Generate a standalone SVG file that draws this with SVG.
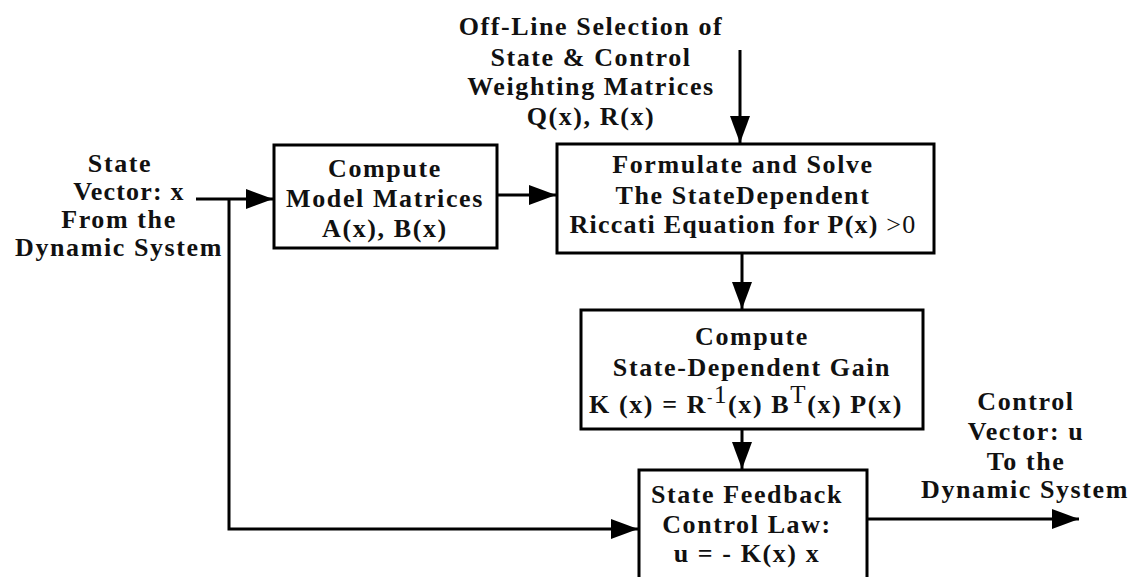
<svg xmlns="http://www.w3.org/2000/svg" width="1134" height="577" viewBox="0 0 1134 577">
  <defs>
    <marker id="arrow" markerUnits="userSpaceOnUse" markerWidth="28" markerHeight="22" viewBox="0 0 28 22" refX="27" refY="11" orient="auto">
      <path d="M0,1 L27,11 L0,21 Z" fill="#000"/>
    </marker>
    <style>
      .box { fill: #fff; stroke: #000; stroke-width: 3; }
      .wire { fill: none; stroke: #000; stroke-width: 3; }
      .lbl { font-family: 'Liberation Serif', 'Tinos', 'DejaVu Serif', serif; font-weight: 700; font-size: 26px; letter-spacing: 1.6px; fill: #111; text-anchor: middle; }
      .thin { font-weight: 400; }
      .tight { letter-spacing: 1.2px; }
    </style>
  </defs>
  <rect width="1134" height="577" fill="#fff"/>

  <!-- connectors -->
  <g id="connectors">
    <line class="wire" x1="196" y1="199" x2="273" y2="199" marker-end="url(#arrow)"/>
    <polyline class="wire" points="229,199 229,529 638,529" marker-end="url(#arrow)"/>
    <line class="wire" x1="497" y1="195" x2="556" y2="195" marker-end="url(#arrow)"/>
    <line class="wire" x1="740" y1="50" x2="740" y2="143" marker-end="url(#arrow)"/>
    <line class="wire" x1="742" y1="253" x2="742" y2="309" marker-end="url(#arrow)"/>
    <line class="wire" x1="742" y1="429" x2="742" y2="469" marker-end="url(#arrow)"/>
    <line class="wire" x1="867" y1="519" x2="1079" y2="519" marker-end="url(#arrow)"/>
  </g>

  <!-- input label -->
  <g id="input-label">
    <text class="lbl" x="120" y="172">State</text>
    <text class="lbl tight" x="129" y="200">Vector: x</text>
    <text class="lbl" x="119" y="228">From the</text>
    <text class="lbl" x="119" y="256">Dynamic System</text>
  </g>

  <!-- weighting matrices label -->
  <g id="weights-label">
    <text class="lbl" x="591" y="35">Off-Line Selection of</text>
    <text class="lbl" x="591" y="66">State &amp; Control</text>
    <text class="lbl" x="591" y="95">Weighting Matrices</text>
    <text class="lbl" x="591" y="125">Q(x), R(x)</text>
  </g>

  <!-- model matrices -->
  <g id="model-matrices">
    <rect class="box" x="274" y="145" width="223" height="103"/>
    <text class="lbl" x="385" y="177">Compute</text>
    <text class="lbl" x="385" y="207">Model Matrices</text>
    <text class="lbl" x="385" y="237">A(x), B(x)</text>
  </g>

  <!-- Riccati solver -->
  <g id="riccati">
    <rect class="box" x="557" y="144" width="377" height="109"/>
    <text class="lbl" x="743" y="173">Formulate and Solve</text>
    <text class="lbl" x="743" y="204">The StateDependent</text>
    <text class="lbl tight" x="743" y="233">Riccati Equation for P(x) <tspan class="thin">&gt;0</tspan></text>
  </g>

  <!-- gain -->
  <g id="gain">
    <rect class="box" x="581" y="310" width="342" height="119"/>
    <text class="lbl" x="752" y="345">Compute</text>
    <text class="lbl" x="752" y="376">State-Dependent Gain</text>
    <text class="lbl" x="746" y="413">K (x) = R<tspan class="thin" font-size="16" dy="-10">-</tspan><tspan class="thin" font-size="25" dy="0">1</tspan><tspan dy="10">(x) B</tspan><tspan class="thin" font-size="25" dy="-10">T</tspan><tspan dy="10">(x) P(x)</tspan></text>
  </g>

  <!-- feedback law -->
  <g id="feedback-law">
    <rect class="box" x="639" y="470" width="228" height="120"/>
    <text class="lbl" x="747" y="503">State Feedback</text>
    <text class="lbl" x="747" y="533">Control Law:</text>
    <text class="lbl" x="747" y="562">u = - K(x) x</text>
  </g>

  <!-- output label -->
  <g id="output-label">
    <text class="lbl" x="1026" y="410">Control</text>
    <text class="lbl" x="1026" y="440">Vector: u</text>
    <text class="lbl" x="1026" y="470">To the</text>
    <text class="lbl" x="1025" y="498">Dynamic System</text>
  </g>
</svg>
